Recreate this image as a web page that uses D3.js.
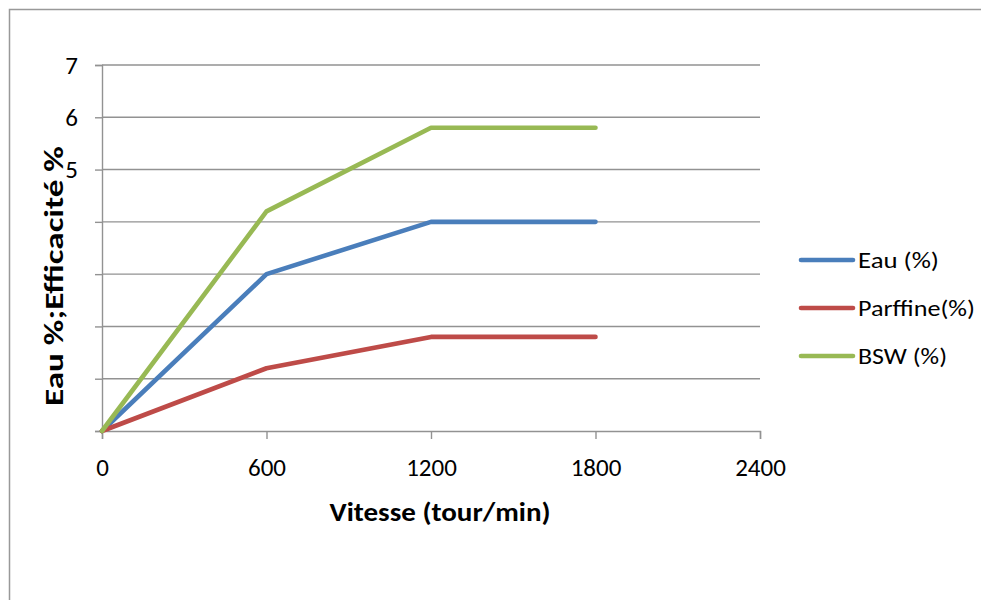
<!DOCTYPE html>
<html><head><meta charset="utf-8">
<script src="https://cdn.jsdelivr.net/npm/d3@7"></script>
<style>body{margin:0;background:#fff}svg{display:block}</style>
</head><body>
<svg id="c" width="981" height="600"></svg>
<script>
const speeds = [0, 600, 1200, 1800];
const eau = [0, 3.0, 4.0, 4.0];
const paraffine = [0, 1.2, 1.8, 1.8];
const bsw = [0, 4.2, 5.8, 5.8];
const seriesNames = ["Eau (%)", "Parffine(%)", "BSW (%)"];
const xTicks = [0, 600, 1200, 1800, 2400];
const yTicks = [0, 1, 2, 3, 4, 5, 6, 7];
const yTickLabels = ["", "", "", "", "", "5", "6", "7"];
const colors = ["#4a7ebb", "#be4b48", "#98b954"];

const font = "Carlito, 'Open Sans', Lato, sans-serif";
const svg = d3.select("#c");
svg.append("rect").attr("x", 9.5).attr("y", 9.5).attr("width", 1000).attr("height", 700)
  .attr("fill", "none").attr("stroke", "#999").attr("stroke-width", 1.5);

const x = d3.scaleLinear().domain([0, 2400]).range([102, 760]);
const y = d3.scaleLinear().domain([0, 7]).range([431, 65]);
const gridColor = "#929292";

// gridlines
svg.append("g").selectAll("line").data(yTicks.filter(d => d > 0)).join("line")
  .attr("x1", x(0)).attr("x2", x(2400)).attr("y1", d => y(d)).attr("y2", d => y(d))
  .attr("stroke", gridColor).attr("stroke-width", 1.4);

// y axis
const yAxis = d3.axisLeft(y).tickValues(yTicks).tickSize(7).tickPadding(17)
  .tickFormat((d, i) => yTickLabels[i]);
const gy = svg.append("g").attr("transform", `translate(${x(0)},0)`).call(yAxis);
gy.select(".domain").attr("stroke", gridColor).attr("stroke-width", 1.4);
gy.selectAll(".tick line").attr("stroke", gridColor).attr("stroke-width", 1.4);
gy.selectAll(".tick text").attr("font-family", font).attr("font-size", 25).attr("fill", "#000");

// x axis
const xAxis = d3.axisBottom(x).tickValues(xTicks).tickSize(8).tickPadding(19).tickFormat(d3.format("d"));
const gx = svg.append("g").attr("transform", `translate(0,${y(0)})`).call(xAxis);
gx.select(".domain").attr("stroke", gridColor).attr("stroke-width", 1.4);
gx.selectAll(".tick line").attr("stroke", gridColor).attr("stroke-width", 1.4);
gx.selectAll(".tick text").attr("font-family", font).attr("font-size", 25).attr("fill", "#000");

// lines
const allSeries = [eau, paraffine, bsw];
const line = d3.line().x((d, i) => x(speeds[i])).y(d => y(d));
svg.append("g").selectAll("path").data(allSeries).join("path")
  .attr("d", d => line(d)).attr("fill", "none")
  .attr("stroke", (d, i) => colors[i]).attr("stroke-width", 4.6)
  .attr("stroke-linejoin", "round").attr("stroke-linecap", "round");

// axis titles
svg.append("text").attr("x", 440).attr("y", 521).attr("text-anchor", "middle")
  .attr("font-family", font).attr("font-weight", "bold").attr("font-size", 27)
  .attr("textLength", 221).attr("lengthAdjust", "spacingAndGlyphs")
  .text("Vitesse (tour/min)");
svg.append("text").attr("transform", "translate(63,276) rotate(-90)").attr("text-anchor", "middle")
  .attr("font-family", font).attr("font-weight", "bold").attr("font-size", 27)
  .attr("textLength", 260).attr("lengthAdjust", "spacingAndGlyphs")
  .text("Eau %;Efficacité %");

// legend
const legendWidths = [81, 117, 89];
const lg = svg.append("g").selectAll("g").data(seriesNames).join("g")
  .attr("transform", (d, i) => `translate(801,${260 + i * 48})`);
lg.append("line").attr("x1", 0).attr("x2", 52).attr("stroke", (d, i) => colors[i])
  .attr("stroke-width", 4.6).attr("stroke-linecap", "round");
lg.append("text").attr("x", 57).attr("y", 8).attr("font-family", font).attr("font-size", 23)
  .attr("textLength", (d, i) => legendWidths[i]).attr("lengthAdjust", "spacingAndGlyphs")
  .text(d => d);
</script>
</body></html>
